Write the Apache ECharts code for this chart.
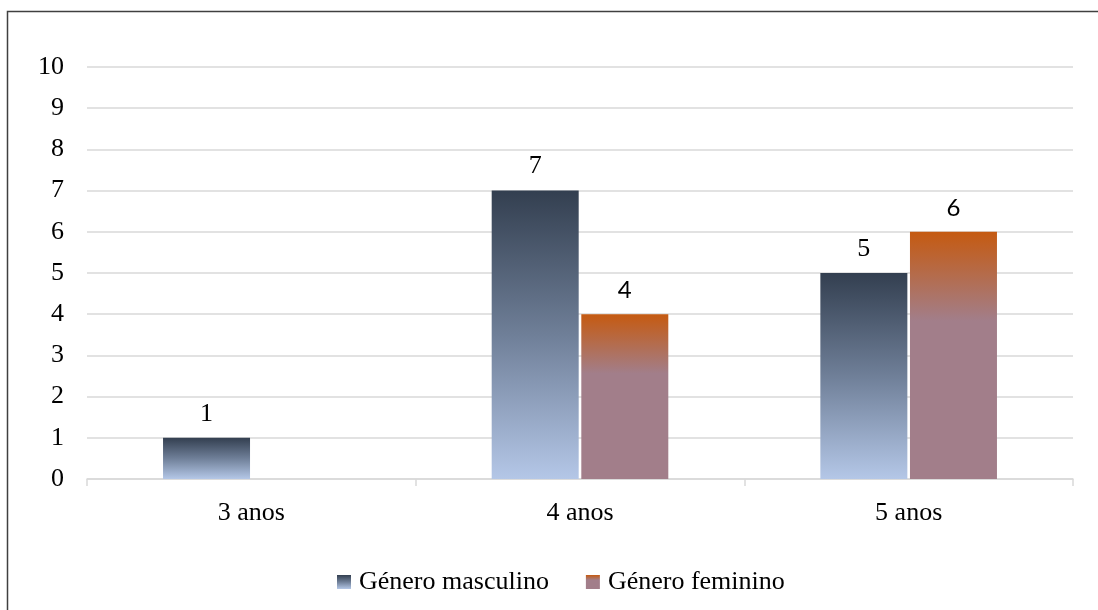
<!DOCTYPE html>
<html>
<head>
<meta charset="utf-8">
<script src="https://cdn.jsdelivr.net/npm/echarts@6/dist/echarts.min.js"></script>
<style>
  html, body { margin: 0; padding: 0; background: #ffffff; }
  #chart { width: 1098px; height: 610px; }
</style>
</head>
<body>
<div id="chart"></div>
<script>
// Age groups and counts per gender
const categories = ['3 anos', '4 anos', '5 anos'];
const masculino = [1, 7, 5];
const feminino = [null, 4, 6];
const seriesNames = ['Género masculino', 'Género feminino'];

const serif = '"Liberation Serif", "Times New Roman", serif';
const sans = 'Lato, "Open Sans", "Noto Sans", sans-serif';

const gradMasc = new echarts.graphic.LinearGradient(0, 0, 0, 1, [
  { offset: 0, color: '#333f50' },
  { offset: 0.5, color: '#6f7f98' },
  { offset: 1, color: '#b4c7e7' }
]);
const gradFem = new echarts.graphic.LinearGradient(0, 0, 0, 1, [
  { offset: 0, color: '#c55a11' },
  { offset: 0.36, color: '#a27e8a' },
  { offset: 1, color: '#a27e8a' }
]);

const chart = echarts.init(document.getElementById('chart'), null, { renderer: 'canvas' });

chart.setOption({
  animation: false,
  backgroundColor: '#ffffff',
  grid: { left: 87, right: 25, top: 67, bottom: 131, containLabel: false },
  legend: {
    bottom: 10,
    left: 332,
    itemWidth: 14,
    itemHeight: 14,
    itemGap: 37,
    icon: 'rect',
    textStyle: { fontFamily: serif, fontSize: 26, color: '#000000', padding: [0, 0, 0, 3] },
    data: seriesNames
  },
  xAxis: {
    type: 'category',
    data: categories,
    axisLine: { lineStyle: { color: '#d9d9d9', width: 1.5 } },
    axisTick: { show: true, alignWithLabel: false, length: 7, lineStyle: { color: '#d9d9d9', width: 1.5 } },
    axisLabel: { fontFamily: serif, fontSize: 26, color: '#000000', margin: 21 }
  },
  yAxis: {
    type: 'value',
    min: 0,
    max: 10,
    interval: 1,
    axisLine: { show: false },
    axisTick: { show: false },
    axisLabel: { fontFamily: serif, fontSize: 26, color: '#000000', margin: 23 },
    splitLine: { lineStyle: { color: '#d9d9d9', width: 1.5 } }
  },
  series: [
    {
      name: seriesNames[0],
      type: 'bar',
      data: masculino,
      barWidth: 87,
      barGap: '3%',
      itemStyle: { color: gradMasc },
      label: {
        show: true,
        position: 'top',
        distance: 11,
        fontFamily: serif,
        fontSize: 26,
        color: '#000000'
      }
    },
    {
      name: seriesNames[1],
      type: 'bar',
      data: feminino,
      barWidth: 87,
      barGap: '3%',
      itemStyle: { color: gradFem },
      label: {
        show: true,
        position: 'top',
        distance: 12,
        fontFamily: sans,
        fontSize: 24,
        color: '#000000'
      }
    }
  ],
  graphic: [
    {
      type: 'polyline',
      shape: { points: [[7.5, 610], [7.5, 11.5], [1098, 11.5]] },
      style: { stroke: '#404040', lineWidth: 1.5, fill: null },
      silent: true
    }
  ]
});
</script>
</body>
</html>
